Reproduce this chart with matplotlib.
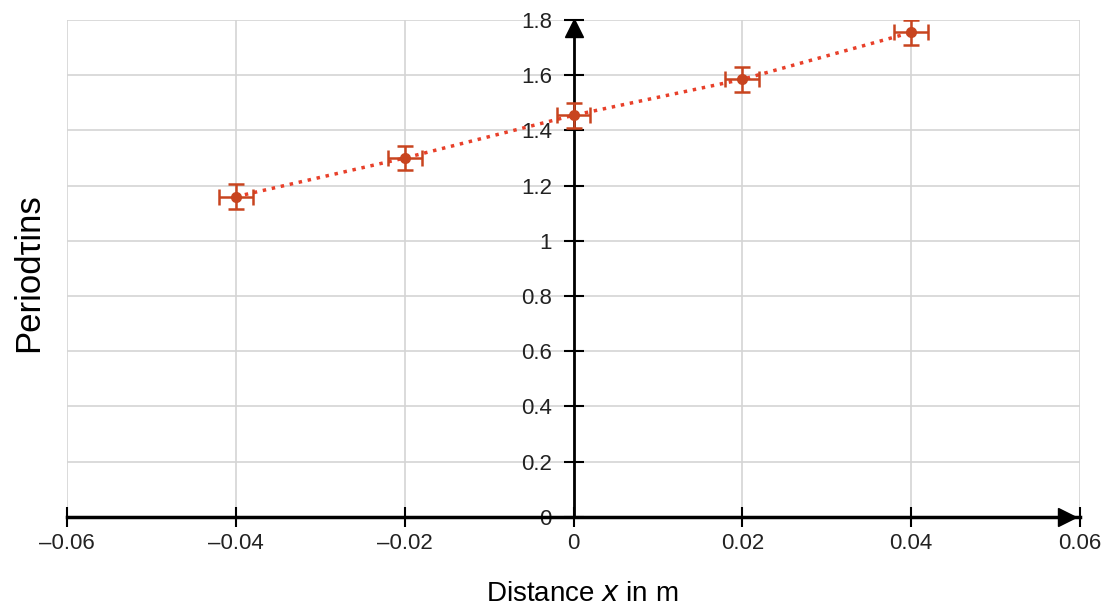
import matplotlib.pyplot as plt
import numpy as np
from matplotlib.ticker import FuncFormatter, MultipleLocator

# Messwerte
distance = [-0.04, -0.02, 0.0, 0.02, 0.04]
period = [1.16, 1.30, 1.455, 1.585, 1.755]
x_err = [0.002, 0.002, 0.002, 0.002, 0.002]
y_err = [0.045, 0.045, 0.045, 0.045, 0.045]

x_ticks = [-0.06, -0.04, -0.02, 0, 0.02, 0.04, 0.06]
y_ticks = [0, 0.2, 0.4, 0.6, 0.8, 1.0, 1.2, 1.4, 1.6, 1.8]

plt.rcParams['font.family'] = ['Liberation Sans', 'DejaVu Sans']

fig = plt.figure(figsize=(11.06, 6.06), dpi=100)
ax = fig.add_axes([0.0606, 0.147, 0.9159, 0.82])

ax.set_xlim(-0.06, 0.06)
ax.set_ylim(0, 1.8)
ax.set_xticks(x_ticks)
ax.set_yticks(y_ticks)

def fmt(v, pos):
    s = '%g' % round(v, 3)
    return s.replace('-', '\u2013')

ax.xaxis.set_major_formatter(FuncFormatter(fmt))
ax.yaxis.set_major_formatter(FuncFormatter(fmt))

ax.grid(True, color='#d4d4d4', linewidth=1.2)
ax.set_axisbelow(True)

for side in ['top', 'right']:
    ax.spines[side].set_visible(False)
ax.spines['left'].set_position(('data', 0))
ax.spines['bottom'].set_position(('data', 0))
ax.spines['left'].set_linewidth(2)
ax.spines['bottom'].set_linewidth(2.5)

ax.tick_params(axis='both', direction='inout', length=15, width=1.5,
               labelsize=16, colors='black', labelcolor='#222222')
ax.tick_params(axis='y', pad=8)
ax.tick_params(axis='x', pad=4)

# Pfeilspitzen
ax.plot([0], [1.77], marker='^', color='black', markersize=13, clip_on=False, zorder=5)
ax.plot([0.0585], [0], marker='>', color='black', markersize=13, clip_on=False, zorder=5)

ax.plot(distance, period, linestyle=':', color='#e8402a', linewidth=2.5, zorder=3)
ax.errorbar(distance, period, xerr=x_err, yerr=y_err, fmt='o', color='#c8441f',
            markersize=7, ecolor='#c8441f', elinewidth=1.8, capsize=6, capthick=1.8,
            zorder=4)

fig.text(0.526, 0.02, 'Distance $x$ in m', fontsize=20, ha='center', va='center')
fig.text(0.026, 0.55, 'Periodτins', rotation=90, fontsize=25, ha='center', va='center')

fig.savefig('out.png', dpi=100)
